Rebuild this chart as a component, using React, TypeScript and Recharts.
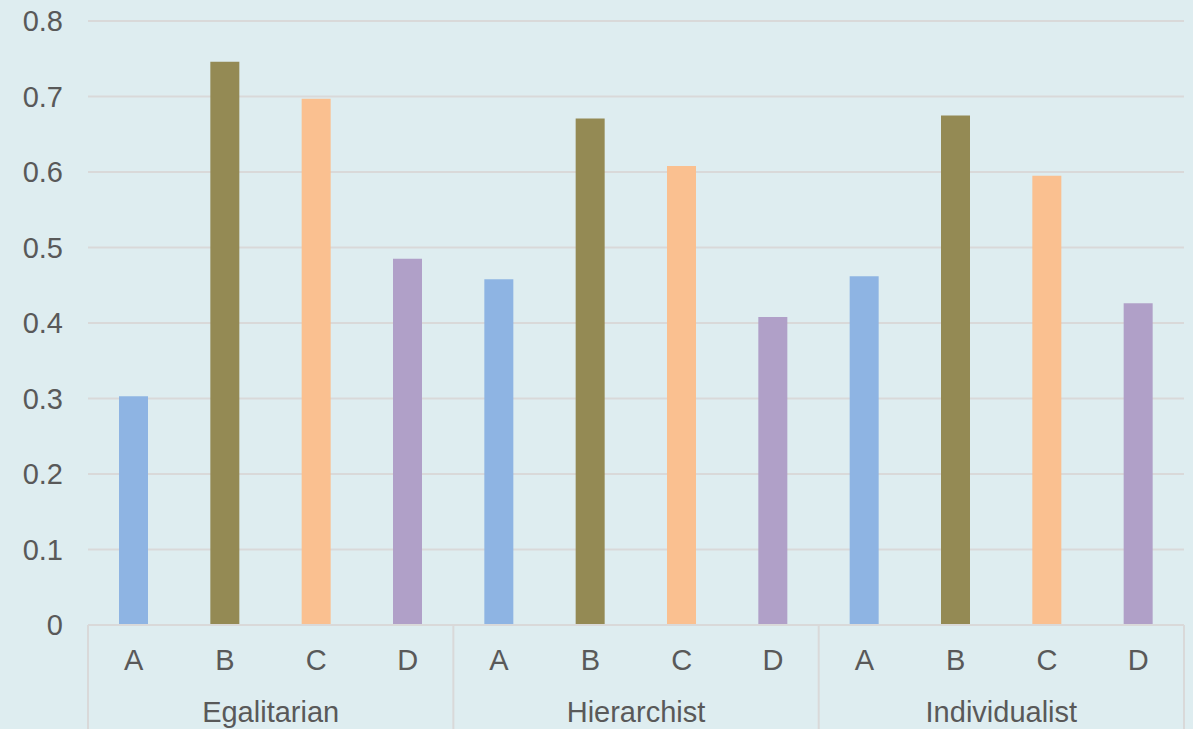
import React from 'react';
import { BarChart, Bar, XAxis, YAxis, CartesianGrid, Cell } from 'recharts';

const groups = ['Egalitarian', 'Hierarchist', 'Individualist'];
const categories = ['A', 'B', 'C', 'D'];
const egalitarian = [0.303, 0.746, 0.697, 0.485];
const hierarchist = [0.458, 0.671, 0.608, 0.408];
const individualist = [0.462, 0.675, 0.595, 0.426];
const yTicks = [0, 0.1, 0.2, 0.3, 0.4, 0.5, 0.6, 0.7, 0.8];
const categoryColors: Record<string, string> = {
  A: '#8EB4E3',
  B: '#948A54',
  C: '#FAC090',
  D: '#B0A0C8',
};

const seriesByGroup = [egalitarian, hierarchist, individualist];
const data = groups.flatMap((g, gi) =>
  categories.map((c, ci) => ({ key: `${g}-${c}`, group: g, cat: c, value: seriesByGroup[gi][ci] }))
);

const TEXT = '#595959';
const LINE = '#D9D9D9';
const FONT = '"Liberation Sans", Arial, sans-serif';
const FS = 29;

const XTick = (props: any) => {
  const { x, y, payload } = props;
  const index: number = payload.index ?? props.index;
  const half: number = payload.offset ?? 0;
  const row = data[index];
  const els: React.ReactNode[] = [];
  els.push(
    <text key="t" x={x} y={y + 35} textAnchor="middle" dominantBaseline="central" fill={TEXT} fontSize={FS} fontFamily={FONT}>
      {row ? row.cat : payload.value}
    </text>
  );
  if (index % 4 === 0) {
    els.push(<line key="l" x1={x - half} x2={x - half} y1={y} y2={y + 110} stroke={LINE} strokeWidth={2} />);
  }
  if (index === data.length - 1) {
    els.push(<line key="r" x1={x + half} x2={x + half} y1={y} y2={y + 110} stroke={LINE} strokeWidth={2} />);
  }
  if (index % 4 === 1 && row) {
    els.push(
      <text key="g" x={x + half} y={y + 87} textAnchor="middle" dominantBaseline="central" fill={TEXT} fontSize={FS} fontFamily={FONT}>
        {row.group}
      </text>
    );
  }
  return <g>{els}</g>;
};

export default function App() {
  return (
    <div style={{ position: 'fixed', left: 0, top: 0, width: 1193, height: 729, background: '#DEEDF0' }}>
      <BarChart
        width={1193}
        height={729}
        data={data}
        margin={{ top: 21, right: 9, bottom: 0, left: 0 }}
        barSize={29}
      >
        <CartesianGrid horizontal vertical={false} stroke={LINE} strokeWidth={2} />
        <YAxis
          domain={[0, 0.8]}
          ticks={yTicks}
          width={88}
          axisLine={false}
          tickLine={false}
          tickSize={0}
          tickMargin={25}
          tickFormatter={(v: number) => (v === 0 ? '0' : String(v))}
          tick={{ fill: TEXT, fontSize: FS, fontFamily: FONT }}
        />
        <XAxis
          dataKey="key"
          height={104}
          interval={0}
          axisLine={{ stroke: LINE, strokeWidth: 2 }}
          tickLine={false}
          tickSize={0}
          tickMargin={0}
          tick={<XTick />}
        />
        <Bar dataKey="value" isAnimationActive={false}>
          {data.map((d) => (
            <Cell key={d.key} fill={categoryColors[d.cat]} />
          ))}
        </Bar>
      </BarChart>
    </div>
  );
}
